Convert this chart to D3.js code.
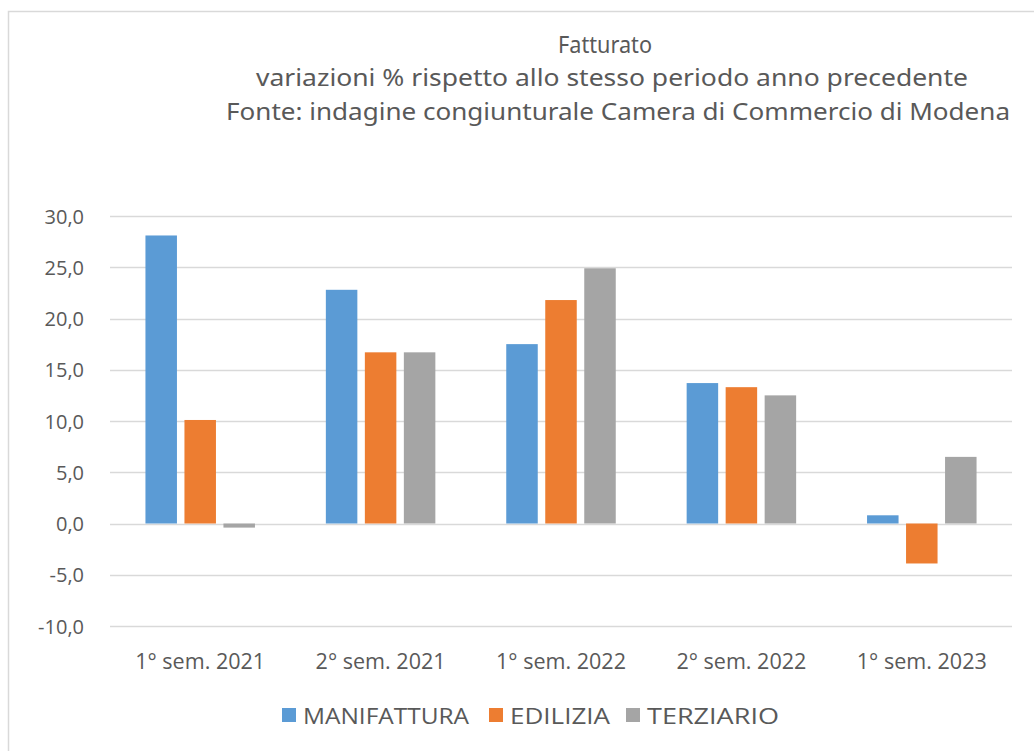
<!DOCTYPE html>
<html><head><meta charset="utf-8">
<script src="https://cdn.jsdelivr.net/npm/d3@7"></script>
<style>body{margin:0;background:#fff}svg{display:block}</style>
</head><body>
<svg id="c" width="1034" height="751"></svg>
<script>
const categories = ["1° sem. 2021","2° sem. 2021","1° sem. 2022","2° sem. 2022","1° sem. 2023"];
const seriesNames = ["MANIFATTURA","EDILIZIA","TERZIARIO"];
const manifattura = [28.1, 22.8, 17.5, 13.7, 0.8];
const edilizia = [10.1, 16.7, 21.8, 13.3, -3.9];
const terziario = [-0.4, 16.7, 24.9, 12.5, 6.5];
const yTicks = [-10,-5,0,5,10,15,20,25,30];
const titleLines = ["Fatturato","variazioni % rispetto allo stesso periodo anno precedente","Fonte: indagine congiunturale Camera di Commercio di Modena"];
const colors = ["#5B9BD5","#ED7D31","#A5A5A5"];
const seriesValues = [manifattura, edilizia, terziario];

const svg = d3.select("#c");
const textColor = "#595959";
const axFont = "'Open Sans', 'DejaVu Sans', sans-serif";

// chart border
svg.append("rect").attr("x",8.5).attr("y",11.5).attr("width",1100).attr("height",800)
  .attr("fill","none").attr("stroke","#D9D9D9").attr("stroke-width",1.5);

// title
const titleSpecs = [{cx:605,y:53,w:94},{cx:612,y:86,w:712},{cx:618,y:120,w:784}];
titleLines.forEach((t,i)=>{
  svg.append("text").attr("x",titleSpecs[i].cx).attr("y",titleSpecs[i].y)
    .attr("text-anchor","middle").attr("fill",textColor)
    .style("font-family","'Noto Sans', sans-serif").style("font-size","24px")
    .attr("textLength",titleSpecs[i].w).attr("lengthAdjust","spacingAndGlyphs")
    .text(t);
});

const x0 = d3.scaleBand().domain(categories).range([110,1012]);
const y = d3.scaleLinear().domain([-10,30]).range([626,216]);

// gridlines
svg.append("g").selectAll("line").data(yTicks).join("line")
  .attr("x1",110).attr("x2",1012)
  .attr("y1",d=>Math.round(y(d))+0.5).attr("y2",d=>Math.round(y(d))+0.5)
  .attr("stroke","#D9D9D9").attr("stroke-width",1.5);

// y axis labels
const yAxis = d3.axisLeft(y).tickValues(yTicks).tickSize(0).tickPadding(0)
  .tickFormat(d=>d3.format(".1f")(d).replace(".",",").replace("−","-"));
const gy = svg.append("g").attr("transform","translate(84,0)").call(yAxis);
gy.select(".domain").remove();
gy.selectAll("text").attr("fill",textColor).style("font-family",axFont).style("font-size","20px").attr("dy","0.35em");

// bars
const barW = 31.5, gap = 7.5;
const groupW = barW*3 + gap*2;
const g = svg.append("g");
categories.forEach((c,ci)=>{
  const cx = x0(c) + x0.bandwidth()/2;
  seriesValues.forEach((vals,si)=>{
    const v = vals[ci];
    const bx = cx - groupW/2 + si*(barW+gap);
    g.append("rect").attr("x",bx).attr("width",barW)
      .attr("y",y(Math.max(0,v))).attr("height",Math.abs(y(v)-y(0)))
      .attr("fill",colors[si]);
  });
});

// x axis labels
const xAxis = d3.axisBottom(x0).tickSize(0).tickPadding(0);
const gx = svg.append("g").attr("transform","translate(0,669)").call(xAxis);
gx.select(".domain").remove();
gx.selectAll("text").attr("fill",textColor).attr("dy",0).style("font-family",axFont).style("font-size","21px")
  .attr("textLength",130).attr("lengthAdjust","spacingAndGlyphs");

// legend
const legX = [282,489,626];
const legW = [166,100,132];
const leg = svg.append("g");
seriesNames.forEach((n,i)=>{
  leg.append("rect").attr("x",legX[i]).attr("y",708).attr("width",14).attr("height",14).attr("fill",colors[i]);
  leg.append("text").attr("x",legX[i]+21).attr("y",724).attr("fill",textColor)
    .style("font-family",axFont).style("font-size","21px")
    .attr("textLength",legW[i]).attr("lengthAdjust","spacingAndGlyphs").text(n);
});
</script>
</body></html>
